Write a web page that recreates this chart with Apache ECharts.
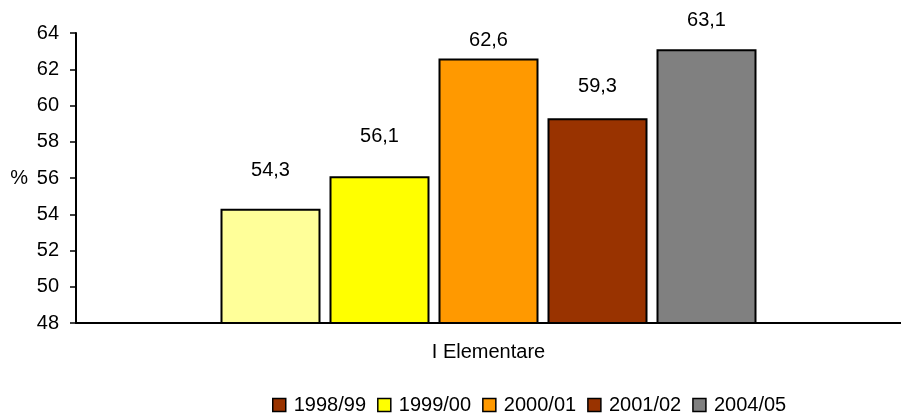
<!DOCTYPE html>
<html><head><meta charset="utf-8">
<script src="https://cdn.jsdelivr.net/npm/echarts@6/dist/echarts.min.js"></script>
<style>html,body{margin:0;padding:0;background:#fff}#c{width:901px;height:416px}</style>
</head><body><div id="c"></div>
<script>
const categories = ['I Elementare'];
const years = ['1998/99', '1999/00', '2000/01', '2001/02', '2004/05'];
const values = [54.3, 56.1, 62.6, 59.3, 63.1];
const yTicks = [48, 50, 52, 54, 56, 58, 60, 62, 64];

const barColors = ['#FFFF99', '#FFFF00', '#FF9900', '#993300', '#808080'];
const legendColors = ['#993300', '#FFFF00', '#FF9900', '#993300', '#808080'];
const labelDist = [28, 30, 8, 22, 19];
const FONT = 'Liberation Sans, Arial, sans-serif';

const chart = echarts.init(document.getElementById('c'));
chart.setOption({
  animation: false,
  textStyle: { fontFamily: FONT },
  grid: { left: 76, top: 33, width: 831, height: 290, containLabel: false },
  legend: {
    top: 395, left: 272, padding: 0,
    itemWidth: 13, itemHeight: 13, itemGap: 11,
    textStyle: { fontSize: 20, color: '#000', fontFamily: FONT, padding: [0, 0, 0, 3] },
    data: years.map((y, i) => ({ name: y, icon: 'rect', itemStyle: { color: legendColors[i], borderColor: '#000', borderWidth: 1.5 } }))
  },
  xAxis: {
    type: 'category', data: categories,
    axisLine: { lineStyle: { color: '#000', width: 2 } },
    axisTick: { show: false },
    axisLabel: { fontSize: 20, color: '#000', margin: 19, fontFamily: FONT }
  },
  yAxis: {
    type: 'value', min: 48, max: 64, interval: 2,
    name: '%', nameLocation: 'middle', nameRotate: 0, nameGap: 48,
    nameTextStyle: { fontSize: 20, color: '#000', fontFamily: FONT },
    splitLine: { show: false },
    axisLine: { show: true, lineStyle: { color: '#000', width: 2 } },
    axisTick: { show: true, length: 6, lineStyle: { color: '#000', width: 1.5 } },
    axisLabel: { fontSize: 20, color: '#000', margin: 17, fontFamily: FONT,
      formatter: v => yTicks.includes(v) ? String(v) : '' }
  },
  series: years.map((y, i) => ({
    name: y, type: 'bar',
    data: [values[i]],
    barWidth: 100, barGap: '9%',
    itemStyle: { color: barColors[i], borderColor: '#000', borderWidth: 2 },
    label: { show: true, position: 'top', distance: labelDist[i], fontSize: 20, color: '#000', fontFamily: FONT,
      formatter: p => String(p.value).replace('.', ',') }
  }))
});
</script></body></html>
